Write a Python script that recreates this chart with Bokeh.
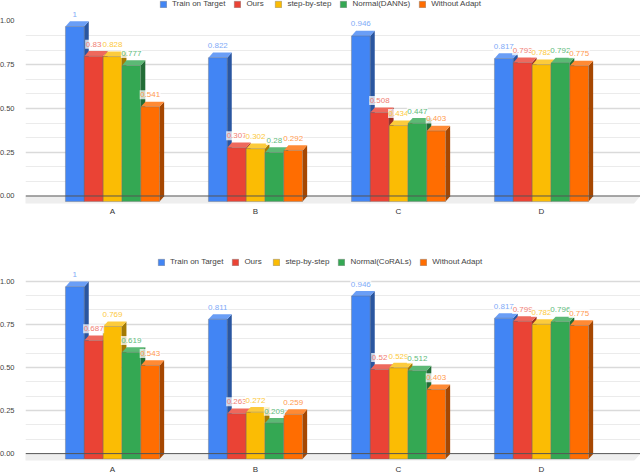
from bokeh.embed import file_html
from bokeh.layouts import column
from bokeh.models import FixedTicker, Legend, LegendItem, Range1d, Span
from bokeh.plotting import figure
from bokeh.resources import INLINE
from bokeh.core.properties import value

categories = ["A", "B", "C", "D"]
series_top = ["Train on Target", "Ours", "step-by-step", "Normal(DANNs)", "Without Adapt"]
series_bottom = ["Train on Target", "Ours", "step-by-step", "Normal(CoRALs)", "Without Adapt"]

train_on_target_top = [1, 0.822, 0.946, 0.817]
ours_top = [0.83, 0.307, 0.508, 0.793]
step_by_step_top = [0.828, 0.302, 0.434, 0.782]
normal_dann_top = [0.777, 0.28, 0.447, 0.792]
without_adapt_top = [0.541, 0.292, 0.403, 0.775]

train_on_target_bottom = [1, 0.811, 0.946, 0.817]
ours_bottom = [0.687, 0.263, 0.52, 0.799]
step_by_step_bottom = [0.769, 0.272, 0.529, 0.782]
normal_coral_bottom = [0.619, 0.209, 0.512, 0.796]
without_adapt_bottom = [0.543, 0.259, 0.403, 0.775]

y_ticks = [0, 0.25, 0.5, 0.75, 1]
y_labels = ["0.00", "0.25", "0.50", "0.75", "1.00"]
minor_ticks = [1/12, 2/12, 4/12, 5/12, 7/12, 8/12, 10/12, 11/12]

front_colors = ["#4285F4", "#EA4335", "#FBBC04", "#34A853", "#FF6D01"]
side_colors = ["#2A56A0", "#992B22", "#A47A03", "#226D36", "#A64701"]
cap_colors = ["#6A9EF6", "#EE695D", "#FCCB3C", "#5CB975", "#FF8A34"]
label_colors = ["#7FABF7", "#F07E74", "#FDC93C", "#5FBB7C", "#FF9A50"]

BAR_W = 18.7 / 143
PITCH = 18.85 / 143
DX = 4.6 / 143
X0, X1 = (25 - 112) / 143, (640 - 112) / 143


def chart(series, rows, y0, y1, height, frame_h, legend_x, legend_y, gridline_top, margin, xstand):
    p = figure(width=648, height=height, output_backend="svg", toolbar_location=None,
               x_range=Range1d(X0, X1), y_range=Range1d(y0, y1), margin=margin,
               min_border_left=27, min_border_right=0, min_border_top=0,
               min_border_bottom=height - frame_h, outline_line_color=None,
               background_fill_color=None, border_fill_color=None)
    dy = 0.0295
    base = -0.0315
    label_dy = 12 / ((frame_h) / (y1 - y0))

    p.xgrid.visible = False
    p.ygrid.ticker = FixedTicker(ticks=[t for t in y_ticks[1:] if t <= gridline_top],
                                 minor_ticks=minor_ticks)
    p.ygrid.grid_line_color = "#DADADA"
    p.ygrid.grid_line_width = 1.4
    p.ygrid.minor_grid_line_color = "#EBEBEB"
    p.ygrid.minor_grid_line_width = 1.2

    p.yaxis.ticker = FixedTicker(ticks=y_ticks)
    p.yaxis.major_label_overrides = dict(zip(y_ticks, y_labels))
    p.yaxis.axis_line_color = None
    p.yaxis.major_tick_line_color = None
    p.yaxis.minor_tick_line_color = None
    p.yaxis.major_tick_out = 0
    p.yaxis.major_tick_in = 0
    p.yaxis.major_label_standoff = 11
    p.yaxis.major_label_text_font = "Liberation Sans"
    p.yaxis.major_label_text_font_size = "7.5px"
    p.yaxis.major_label_text_color = "#444444"

    p.xaxis.ticker = FixedTicker(ticks=list(range(len(categories))))
    p.xaxis.major_label_overrides = dict(enumerate(categories))
    p.xaxis.axis_line_color = None
    p.xaxis.major_tick_line_color = None
    p.xaxis.minor_tick_line_color = None
    p.xaxis.major_tick_out = 0
    p.xaxis.major_tick_in = 0
    p.xaxis.major_label_standoff = xstand
    p.xaxis.major_label_text_font = "Liberation Sans"
    p.xaxis.major_label_text_font_size = "8px"
    p.xaxis.major_label_text_color = "#333333"

    floor_y = -0.0435
    floor_skew = 6.5 / 143
    p.patch([X0, X1, X1 - floor_skew, X0 - floor_skew], [0, 0, floor_y, floor_y],
            fill_color="#EEEEEE", line_color=None)
    p.add_layout(Span(location=0, dimension="width", line_color="#555555", line_width=1))

    items = []
    for i, (name, vals) in enumerate(zip(series, rows)):
        xc = [g + (i - 2) * PITCH for g in range(len(vals))]
        top = [v + base for v in vals]
        side_x = [[x + BAR_W / 2, x + BAR_W / 2 + DX, x + BAR_W / 2 + DX, x + BAR_W / 2] for x in xc]
        side_y = [[base, base + dy, t + dy, t] for t in top]
        cap_x = [[x - BAR_W / 2, x + BAR_W / 2, x + BAR_W / 2 + DX, x - BAR_W / 2 + DX] for x in xc]
        cap_y = [[t, t, t + dy, t + dy] for t in top]
        p.patches(side_x, side_y, fill_color=side_colors[i], line_color=None)
        p.patches(cap_x, cap_y, fill_color=cap_colors[i], line_color=None)
        r = p.vbar(x=xc, top=top, bottom=base, width=BAR_W, fill_color=front_colors[i],
                   line_color="#6F6F6F", line_alpha=0.55, line_width=0.7)
        items.append(LegendItem(label=value(name), renderers=[r]))

    for i, vals in enumerate(rows):
        xc = [g + (i - 2) * PITCH for g in range(len(vals))]
        ly = [v + base + label_dy for v in vals]
        texts = [f"{v:g}" for v in vals]
        p.rect(xc, ly, width=[len(t) * 4.0 + 1 for t in texts], height=9,
               width_units="screen", height_units="screen",
               fill_color="white", fill_alpha=0.75, line_color=None)
        p.text(xc, ly, text=texts, text_align="center",
               text_baseline="middle", text_font=value("Liberation Sans"),
               text_font_size="8px", text_color=label_colors[i])

    legend = Legend(items=items, orientation="horizontal", location=(legend_x, legend_y),
                    background_fill_alpha=0, border_line_color=None, padding=0, margin=0,
                    spacing=8, label_standoff=5, glyph_width=8, glyph_height=8,
                    label_height=8, label_text_font="Liberation Sans",
                    label_text_font_size="8px", label_text_color="#444444")
    p.add_layout(legend)
    return p


top_chart = chart(series_top,
                  [train_on_target_top, ours_top, step_by_step_top, normal_dann_top, without_adapt_top],
                  -0.0486, 1.117, 238, 204, 134, 196, 0.95, (0, 0, 0, -4), 2)
bottom_chart = chart(series_bottom,
                     [train_on_target_bottom, ours_bottom, step_by_step_bottom, normal_coral_bottom, without_adapt_bottom],
                     -0.04, 1.248, 238, 225, 132, 194, 1.0, (0, 0, 0, -4), 4)

page = column(top_chart, bottom_chart, spacing=0)
open("out.html", "w").write(file_html(page, INLINE))
